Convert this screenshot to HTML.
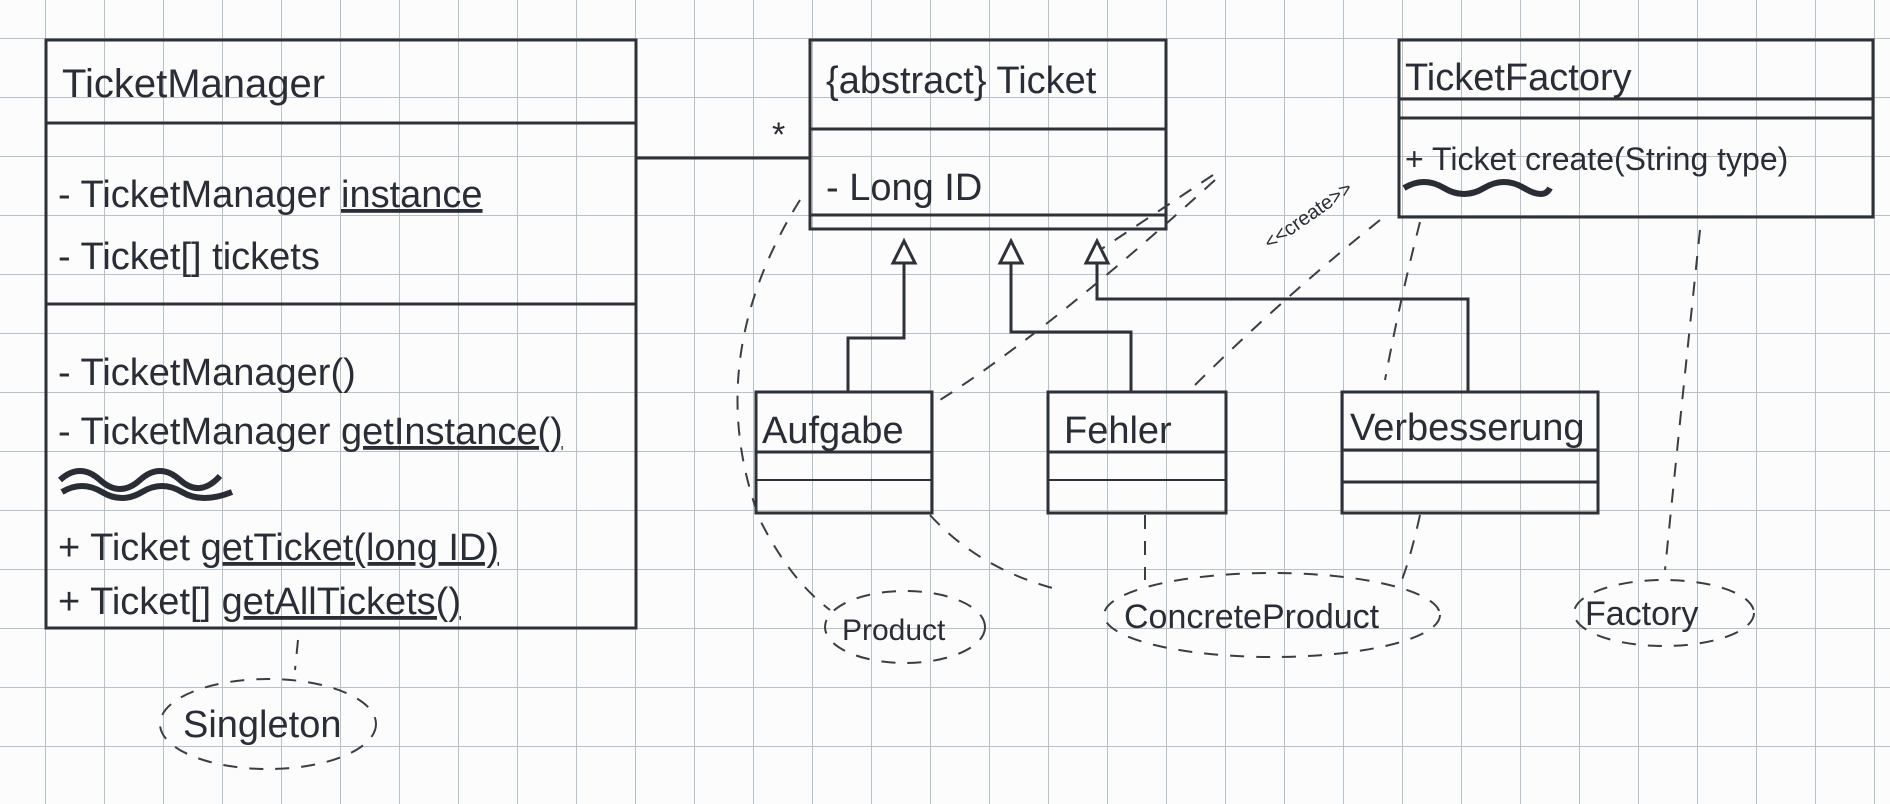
<!DOCTYPE html>
<html><head><meta charset="utf-8"><style>
html,body{margin:0;padding:0;background:#fbfcfb;}
svg{display:block}
text{font-family:"Liberation Sans",sans-serif;fill:#2a2d35;}
</style></head><body>
<svg width="1890" height="804" viewBox="0 0 1890 804" xmlns="http://www.w3.org/2000/svg">
<defs>
<pattern id="g" x="-14" y="38" width="59" height="59" patternUnits="userSpaceOnUse">
<path d="M0 0H59M0 0V59" stroke="#b9c0c6" stroke-width="2" fill="none"/>
</pattern>
</defs>
<rect width="1890" height="804" fill="#fbfcfb"/>
<rect width="1890" height="804" fill="url(#g)"/>
<g stroke="#2e3138" stroke-width="3" fill="none">
<!-- TicketManager -->
<rect x="46" y="40" width="590" height="588"/>
<line x1="46" y1="123" x2="636" y2="123"/>
<line x1="46" y1="304" x2="636" y2="304"/>
<!-- association -->
<line x1="636" y1="158" x2="810" y2="158"/>
<!-- Ticket -->
<rect x="810" y="40" width="356" height="189"/>
<line x1="810" y1="129" x2="1166" y2="129"/>
<line x1="810" y1="215" x2="1166" y2="215"/>
<!-- Factory -->
<rect x="1399" y="40" width="474" height="177"/>
<line x1="1399" y1="99" x2="1873" y2="99"/>
<line x1="1399" y1="118" x2="1873" y2="118"/>
<!-- subclasses -->
<rect x="756" y="392" width="176" height="121"/>
<line x1="756" y1="452" x2="932" y2="452"/><line x1="756" y1="480" x2="932" y2="480" stroke-width="2"/>
<rect x="1048" y="392" width="178" height="121"/>
<line x1="1048" y1="452" x2="1226" y2="452"/><line x1="1048" y1="480" x2="1226" y2="480" stroke-width="2"/>
<rect x="1342" y="392" width="256" height="121"/>
<line x1="1342" y1="450" x2="1598" y2="450"/><line x1="1342" y1="482" x2="1598" y2="482"/>
<!-- inheritance -->
<polyline points="904,263 904,338 848,338 848,392"/>
<polyline points="1011,263 1011,332 1131,332 1131,392"/>
<polyline points="1097,263 1097,299 1468,299 1468,392"/>
<path d="M904 241 L893 263 L915 263 Z M1011 241 L1000 263 L1022 263 Z M1097 241 L1086 263 L1108 263 Z" fill="#fbfcfb"/>
</g>
<!-- dashed -->
<g stroke="#3a3d44" stroke-width="2" fill="none" stroke-dasharray="14 12">
<path d="M1215 180 Q1050 330 940 400"/>
<path d="M1380 220 Q1280 300 1190 390"/>
<path d="M1420 222 Q1400 300 1385 380"/>
<path d="M800 200 Q700 360 760 520 Q790 580 830 610"/>
<path d="M930 515 Q980 570 1060 590"/>
<path d="M1145 515 L1145 580"/>
<path d="M1420 515 Q1410 560 1400 585"/>
<path d="M1700 230 Q1680 420 1665 570"/>
<path d="M1213 175 L1100 250"/>
<path d="M298 640 L295 670"/>
<ellipse cx="905" cy="627" rx="80" ry="36"/>
<ellipse cx="1272" cy="615" rx="168" ry="42"/>
<ellipse cx="1664" cy="613" rx="90" ry="33"/>
<ellipse cx="268" cy="724" rx="108" ry="45"/>
</g>
<g font-size="38">
<text x="62" y="97" font-size="40">TicketManager</text>
<text x="58" y="207">- TicketManager <tspan text-decoration="underline">instance</tspan></text>
<text x="58" y="269">- Ticket[] tickets</text>
<text x="58" y="385">- TicketManager()</text>
<text x="58" y="444">- TicketManager <tspan text-decoration="underline">getInstance()</tspan></text>
<text x="58" y="560">+ Ticket <tspan text-decoration="underline">getTicket(long ID)</tspan></text>
<text x="58" y="614">+ Ticket[] <tspan text-decoration="underline">getAllTickets()</tspan></text>
<text x="826" y="93">{abstract} Ticket</text>
<text x="826" y="200">- Long ID</text>
<text x="772" y="146" font-size="34">*</text>
<text x="1405" y="90">TicketFactory</text>
<text x="1405" y="170" font-size="32">+ Ticket create(String type)</text>
<text x="762" y="443">Aufgabe</text>
<text x="1064" y="443">Fehler</text>
<text x="1350" y="440">Verbesserung</text>
<text x="842" y="640" font-size="30">Product</text>
<text x="1124" y="628" font-size="34">ConcreteProduct</text>
<text x="1585" y="625" font-size="34">Factory</text>
<text x="183" y="737" font-size="38">Singleton</text>
<text x="1270" y="250" font-size="20" transform="rotate(-35 1270 250)">&lt;&lt;create&gt;&gt;</text>
</g>
<g stroke="#2a2d35" stroke-width="6" fill="none">
<path d="M60 480 q20 -18 40 0 t40 0 t40 0 t40 -4"/>
<path d="M62 492 q20 -12 40 0 t40 0 t40 0 t50 0"/>
<path d="M1404 188 q20 -12 40 0 t40 0 t40 0 t26 0"/>
</g>
</svg>
</body></html>
